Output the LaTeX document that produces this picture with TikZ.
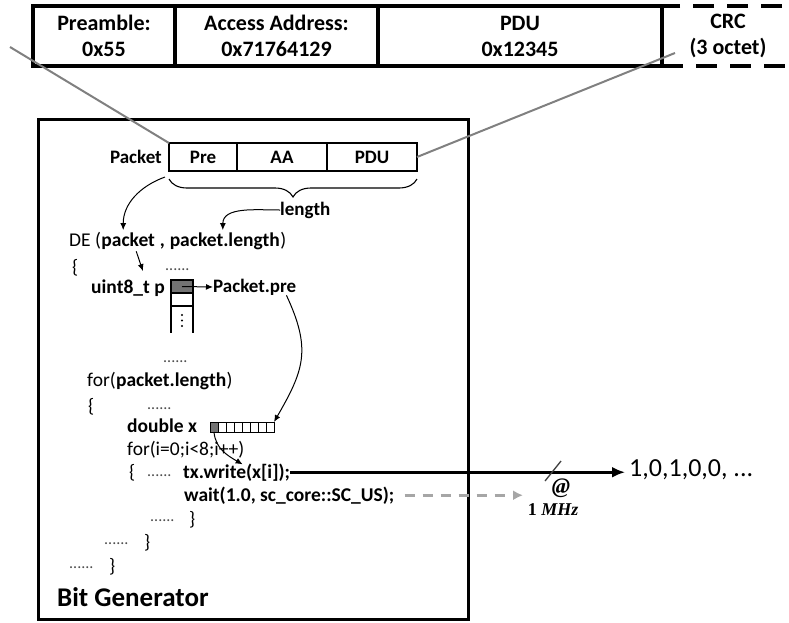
\documentclass[tikz,border=0pt]{standalone}
\usepackage{fontspec}
\setmainfont{Carlito}
\newfontfamily\mhzfont{Liberation Serif}
\usetikzlibrary{positioning,arrows.meta,decorations.pathreplacing}

\begin{document}
\begin{tikzpicture}[x=1pt,y=1pt,
  field/.style={draw, line width=3.4pt, outer sep=0pt, minimum height=60pt,
    align=center, font=\fontsize{22}{26}\selectfont\bfseries},
  cell/.style={draw, line width=1.3pt, outer sep=0pt, minimum height=28pt,
    font=\fontsize{19}{22}\selectfont\bfseries},
  pcell/.style={draw, line width=1.2pt, outer sep=0pt, minimum width=22pt, minimum height=13pt, inner sep=0pt},
  xcell/.style={draw, line width=1pt, outer sep=0pt, minimum width=8pt, minimum height=10pt, inner sep=0pt},
  code/.style={anchor=base west, inner sep=0pt, font=\fontsize{19.5}{23}\selectfont},
  bcode/.style={code, font=\fontsize{19.5}{23}\selectfont\bfseries},
  lbl/.style={inner sep=0pt, font=\fontsize{19}{22}\selectfont\bfseries},
  dots/.style={anchor=base west, inner sep=0pt, font=\fontsize{16}{18}\selectfont, text=black!70},
  arr/.style={-{Latex[length=7pt,width=6pt]}, line width=1pt},
  link/.style={line width=2pt, black!50}]

  \useasboundingbox (0,0) rectangle (789,-622);

  \node[field, minimum width=142pt, anchor=north west] (fpre) at (33,-6) {Preamble:\\0x55};
  \node[field, minimum width=203pt, anchor=west] (faa) at (fpre.east) {Access Address:\\0x71764129};
  \node[field, minimum width=284pt, anchor=west] (fpdu) at (faa.east) {PDU\\0x12345};
  \node[field, dash pattern=on 21pt off 13pt, minimum width=132pt, anchor=west] (fcrc) at (fpdu.east) {CRC\\(3 octet)};

  \node[draw, line width=3.4pt, minimum width=430pt, minimum height=500pt, anchor=north west] (gen) at (37,-118) {};

  \node[cell, minimum width=68pt, anchor=north west] (cpre) at (169,-143) {Pre};
  \node[cell, minimum width=90pt, anchor=west] (caa) at (cpre.east) {AA};
  \node[cell, minimum width=90pt, anchor=west] (cpdu) at (caa.east) {PDU};
  \node[lbl, anchor=east, left=7pt of cpre] (pktlbl) {Packet};
  \draw[decorate, decoration={brace, mirror, amplitude=18pt}, line width=1.1pt]
    ([yshift=-8pt]cpre.south west) -- ([yshift=-8pt]cpdu.south east);
  \node[lbl, anchor=west] (lenlbl) at (280,-210) {length};

  \node[code] (de) at (69,-246) {DE~(};
  \node[bcode] (argpkt) at (de.base east) {packet};
  \node[bcode] (argsep) at (argpkt.base east) {\kern0.23em,\kern0.23em};
  \node[bcode] (arglen) at (argsep.base east) {packet.length};
  \node[code] (declose) at (arglen.base east) {)};

  \node[code] (ob1) at (72,-273) {\{};
  \node[dots] (d1) at (165,-270) {......};
  \node[bcode] (ptrp) at (91,-293) {uint8\_t p};
  \node[pcell, fill=black!55, anchor=north west] (pc1) at (171,-280) {};
  \node[pcell, anchor=north] (pc2) at (pc1.south) {};
  \draw[line width=1.2pt] (pc2.south west) -- ++(0,-27) (pc2.south east) -- ++(0,-27);
  \foreach \d in {9,14.5,20}
    \fill ([yshift=-\d pt]pc2.south) circle (1.2pt);
  \node[lbl, anchor=west] (ppre) at (213,-287) {Packet.pre};

  \node[dots] (d2) at (163,-362) {......};
  \node[code] (forp) at (87,-386) {for(};
  \node[bcode] (forlen) at (forp.base east) {packet.length};
  \node[code] (forclose) at (forlen.base east) {)};
  \node[code] (ob2) at (88,-412) {\{};
  \node[dots] (d3) at (147,-409) {......};
  \node[bcode] (dbl) at (127,-432) {double x};
  \node[xcell, fill=black!55] (xc1) at (214,-427) {};
  \foreach \i [count=\j from 1] in {2,...,8}
    \node[xcell, right=0pt of xc\j] (xc\i) {};
  \node[code] (fori) at (127,-455) {for(i=0;i<8;i++)};
  \node[code] (ob3) at (129,-478) {\{};
  \node[dots] (d4) at (147,-476) {......};
  \node[bcode] (txw) at (183,-478) {tx.write(x[i]);};
  \node[bcode] (waitn) at (184,-501) {wait(1.0, sc\_core::SC\_US);};
  \node[dots] (d5) at (150,-521) {......};
  \node[code] (cb1) at (189,-525) {\}};
  \node[dots] (d6) at (104,-544) {......};
  \node[code] (cb2) at (144,-548) {\}};
  \node[dots] (d7) at (69,-568) {......};
  \node[code] (cb3) at (109,-572) {\}};
  \node[anchor=base west, inner sep=0pt, font=\fontsize{27}{30}\selectfont\bfseries] (genlbl) at (57,-606) {Bit Generator};

  \node[anchor=west, inner sep=0pt, font=\fontsize{26}{28}\selectfont] (bits) at (629,-470) {1,0,1,0,0, ...};
  \node[font=\fontsize{22}{24}\selectfont\mhzfont\bfseries\itshape] (atsign) at (561,-488) {@};
  \node[font=\fontsize{18}{20}\selectfont\mhzfont\bfseries] (mhz) at (553,-510) {1 \itshape MHz};
  \coordinate (tick) at (553,-471);
  \coordinate (clk) at (523,-495);
  \coordinate (lfree) at (10,-47);
  \coordinate (rfree) at (675,-53);

  \draw[link] (lfree) -- (cpre.north west);
  \draw[link] (rfree) -- (cpdu.east);
  \draw[arr] ([shift={(-4pt,-6pt)}]cpre.south west) to[out=200,in=90] ([xshift=-5pt,yshift=2pt]argpkt.north);
  \draw[arr] (lenlbl.west) to[out=180,in=90] ([xshift=-2pt,yshift=2pt]arglen.north);
  \draw[arr] ([xshift=8pt,yshift=-2pt]argpkt.south) -- ([xshift=15pt,yshift=8pt]ptrp.north);
  \draw[arr] (pc1.center) -- (ppre.west);
  \draw[arr] ([xshift=-10pt]ppre.south east) to[out=-65,in=60,looseness=1.2] (xc8.north east);
  \draw[arr] (xc1.south) to[out=-85,in=150] ([xshift=6pt,yshift=-1pt]txw.north);
  \draw[-{Latex[length=13pt,width=11pt]}, line width=3pt, shorten >=4pt] (txw.east) -- (txw.east -| bits.west);
  \draw[line width=1.3pt, black!75] ([shift={(-8pt,-10pt)}]tick) -- ([shift={(8pt,10pt)}]tick);
  \draw[-{Latex[length=10pt,width=10pt]}, line width=2.6pt, black!35, dash pattern=on 10pt off 8pt]
    ([xshift=10pt]waitn.east) -- (waitn.east -| clk);

\end{tikzpicture}
\end{document}
